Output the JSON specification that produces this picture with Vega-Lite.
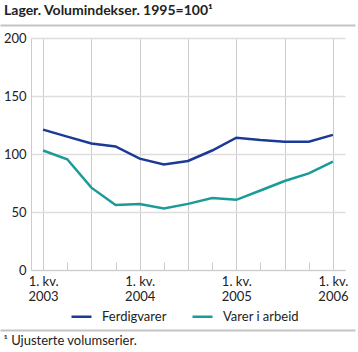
{
  "$schema": "https://vega.github.io/schema/vega-lite/v6.json",
  "width": 314,
  "height": 232,
  "autosize": "none",
  "padding": {"left": 31, "top": 38, "right": 13, "bottom": 82},
  "background": "white",
  "config": {
    "font": "Lato",
    "view": {"stroke": null},
    "axis": {"labelFont": "Lato", "labelFontSize": 13, "labelColor": "#222", "titleFont": "Lato"},
    "legend": {"labelFont": "Lato"}
  },
  "title": {
    "text": "Lager. Volumindekser. 1995=100¹",
    "anchor": "start",
    "frame": "group",
    "fontSize": 14,
    "fontWeight": "bold",
    "color": "#222",
    "font": "Lato",
    "dx": -27,
    "offset": 7
  },
  "data": {
    "values": [
      {"q": 0, "s": "Ferdigvarer", "v": 121},
      {"q": 1, "s": "Ferdigvarer", "v": 115},
      {"q": 2, "s": "Ferdigvarer", "v": 109},
      {"q": 3, "s": "Ferdigvarer", "v": 106.5},
      {"q": 4, "s": "Ferdigvarer", "v": 96},
      {"q": 5, "s": "Ferdigvarer", "v": 91},
      {"q": 6, "s": "Ferdigvarer", "v": 94},
      {"q": 7, "s": "Ferdigvarer", "v": 103},
      {"q": 8, "s": "Ferdigvarer", "v": 114},
      {"q": 9, "s": "Ferdigvarer", "v": 112},
      {"q": 10, "s": "Ferdigvarer", "v": 110.5},
      {"q": 11, "s": "Ferdigvarer", "v": 110.5},
      {"q": 12, "s": "Ferdigvarer", "v": 116.5},
      {"q": 0, "s": "Varer i arbeid", "v": 103},
      {"q": 1, "s": "Varer i arbeid", "v": 95.5},
      {"q": 2, "s": "Varer i arbeid", "v": 71},
      {"q": 3, "s": "Varer i arbeid", "v": 56},
      {"q": 4, "s": "Varer i arbeid", "v": 56.8},
      {"q": 5, "s": "Varer i arbeid", "v": 53},
      {"q": 6, "s": "Varer i arbeid", "v": 57},
      {"q": 7, "s": "Varer i arbeid", "v": 62},
      {"q": 8, "s": "Varer i arbeid", "v": 60.5},
      {"q": 9, "s": "Varer i arbeid", "v": 68.5},
      {"q": 10, "s": "Varer i arbeid", "v": 76.7},
      {"q": 11, "s": "Varer i arbeid", "v": 83.3},
      {"q": 12, "s": "Varer i arbeid", "v": 93.4}
    ]
  },
  "layer": [
    {
      "mark": {"type": "line", "strokeWidth": 2.5},
      "encoding": {
        "x": {
          "field": "q",
          "type": "quantitative",
          "scale": {"domain": [-0.5, 12.5], "nice": false, "zero": false},
          "axis": {
            "title": null,
            "values": [0, 1, 2, 3, 4, 5, 6, 7, 8, 9, 10, 11, 12],
            "labelExpr": "datum.value % 4 == 0 ? ['1. kv.', '' + (2003 + datum.value / 4)] : ''",
            "labelLineHeight": 15,
            "labelPadding": 13,
            "labelBaseline": "top",
            "domain": true,
            "domainColor": "#cccccc",
            "ticks": true,
            "tickSize": -8,
            "tickColor": "#cccccc",
            "grid": true,
            "gridColor": "#cccccc",
            "gridOpacity": {"condition": {"test": "datum.value % 2 == 0", "value": 1}, "value": 0},
            "labelFlush": false,
            "labelOverlap": false
          }
        },
        "y": {
          "field": "v",
          "type": "quantitative",
          "scale": {"domain": [0, 200], "nice": false},
          "axis": {
            "title": null,
            "values": [0, 50, 100, 150, 200],
            "ticks": false,
            "labelPadding": 5,
            "domain": true,
            "domainColor": "#cccccc",
            "gridColor": "#dddddd",
            "gridWidth": 1.5
          }
        },
        "color": {
          "field": "s",
          "type": "nominal",
          "scale": {"domain": ["Ferdigvarer", "Varer i arbeid"], "range": ["#1b3a96", "#1a9b98"]},
          "legend": {
            "title": null,
            "orient": "none",
            "direction": "horizontal",
            "legendX": 39,
            "legendY": 267,
            "symbolType": "stroke",
            "symbolSize": 400,
            "symbolStrokeWidth": 2.5,
            "labelFontSize": 13,
            "labelColor": "#222",
            "labelOffset": 9,
            "columnPadding": 20
          }
        }
      }
    },
    {
      "mark": {"type": "point", "opacity": 0},
      "encoding": {
        "x": {
          "field": "q",
          "type": "quantitative",
          "scale": {"domain": [-0.5, 12.5], "nice": false, "zero": false, "range": [-31, 324]},
          "axis": {"orient": "top", "offset": 13, "title": null, "domain": true, "labels": false, "ticks": false, "grid": false, "domainColor": "#c4c4c4", "domainWidth": 2}
        }
      }
    },
    {
      "mark": {"type": "point", "opacity": 0},
      "encoding": {
        "x": {
          "field": "q",
          "type": "quantitative",
          "scale": {"domain": [-0.5, 12.5], "nice": false, "zero": false, "range": [-31, 324]},
          "axis": {
            "orient": "bottom", "offset": 60, "domain": true, "labels": false, "ticks": false, "grid": false,
            "domainColor": "#c4c4c4", "domainWidth": 2,
            "title": "¹ Ujusterte volumserier.",
            "titleFont": "Lato", "titleFontSize": 13, "titleFontWeight": "normal", "titleColor": "#222",
            "titleAnchor": "start", "titleAlign": "left", "titlePadding": 4, "titleX": -28
          }
        }
      }
    }
  ],
  "resolve": {"scale": {"x": "independent"}, "axis": {"x": "independent"}}
}
